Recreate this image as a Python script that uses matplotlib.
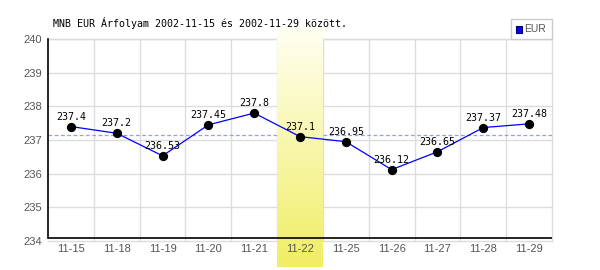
import numpy as np
import matplotlib
matplotlib.use("Agg")
import matplotlib.pyplot as plt
from matplotlib.patches import Rectangle

categories = ["11-15", "11-18", "11-19", "11-20", "11-21", "11-22",
              "11-25", "11-26", "11-27", "11-28", "11-29"]
values = [237.4, 237.2, 236.53, 237.45, 237.8, 237.1,
          236.95, 236.12, 236.65, 237.37, 237.48]
value_labels = ["237.4", "237.2", "236.53", "237.45", "237.8", "237.1",
                "236.95", "236.12", "236.65", "237.37", "237.48"]
avg_line = 237.15
highlight_index = 5
y_ticks = [234, 235, 236, 237, 238, 239, 240]
title = "MNB EUR Árfolyam 2002-11-15 és 2002-11-29 között."
legend_label = "EUR"

W, H = 600, 270
fig = plt.figure(figsize=(6, 2.7), dpi=100, facecolor="white")

# axes pixel box: left 48, right 552, top 39, bottom 241
L, R, T, B = 48, 552, 39, 241
ax = fig.add_axes([L / W, (H - B) / H, (R - L) / W, (B - T) / H])
ax.set_facecolor("white")
ymin, ymax = 234, 240
ppu = (B - T) / (ymax - ymin)

def py2data(p):
    return ymax - (p - T) / ppu

x = np.arange(len(categories))

# grid
ax.set_axisbelow(False)
for k in range(1, len(categories)):
    ax.axvline(k - 0.5, color="#dddddd", lw=1.0, zorder=0.5)
for yt in y_ticks:
    ax.axhline(yt, color="#dddddd", lw=1.0, zorder=0.5, clip_on=False)

# average dashed line
ax.axhline(avg_line, color="#9999ff", lw=0.9, ls=(0, (3, 2)), zorder=1)

# highlight band with gradient
grad = np.linspace(0, 1, 256).reshape(-1, 1)
top_c = np.array([255, 255, 242]) / 255
bot_c = np.array([240, 238, 100]) / 255
img = top_c[None, None, :] * (1 - grad[:, :, None]) + bot_c[None, None, :] * grad[:, :, None]
ax.imshow(img, extent=[highlight_index - 0.5, highlight_index + 0.5,
                       py2data(267), py2data(28)],
          aspect="auto", origin="upper", zorder=1.5, clip_on=False,
          interpolation="bilinear")

# black x axis line slightly above bottom
y_axis_line = py2data(238)
ax.plot([-0.5, len(categories) - 0.5], [y_axis_line, y_axis_line],
        color="black", lw=1.2, zorder=3, clip_on=False, solid_capstyle="butt")

# series
ax.plot(x, values, color="#0000ff", lw=0.9, zorder=4)
ax.scatter(x, values, s=32, color="black", zorder=5)
for xi, v, lab in zip(x, values, value_labels):
    ax.annotate(lab, (xi, v), xytext=(0, 10), textcoords="offset pixels",
                ha="center", va="center", fontsize=7.2,
                family="DejaVu Sans Mono", color="black", zorder=6)

ax.set_xlim(-0.5, len(categories) - 0.5)
ax.set_ylim(ymin, ymax)
ax.set_xticks(x)
ax.set_xticklabels(categories)
ax.set_yticks(y_ticks)
ax.set_yticklabels([str(t) for t in y_ticks])
ax.tick_params(axis="both", length=0, colors="#555555", labelsize=8)
ax.tick_params(axis="x", pad=2.5)
ax.tick_params(axis="y", pad=4.5)
for lbl in ax.get_xticklabels() + ax.get_yticklabels():
    lbl.set_family("Liberation Sans")

ax.spines["bottom"].set_visible(False)
ax.spines["top"].set_color("#dddddd")
ax.spines["right"].set_color("#dddddd")
ax.spines["left"].set_color("black")
ax.spines["left"].set_linewidth(1.2)
ax.spines["left"].set_bounds(y_axis_line, ymax)
ax.spines["left"].set_zorder(3)
for s in ["top", "right"]:
    ax.spines[s].set_linewidth(1.0)
    ax.spines[s].set_zorder(0.5)

# title
fig.text(53 / W, (H - 23) / H, title, ha="left", va="center",
         fontsize=7.2, family="DejaVu Sans Mono", color="black")

# legend (manual)
def fr(x0, y0, x1, y1, **kw):
    fig.patches.append(Rectangle((x0 / W, (H - y1) / H), (x1 - x0) / W, (y1 - y0) / H,
                                 transform=fig.transFigure, figure=fig, **kw))

fr(511, 19, 552, 39, facecolor="white", edgecolor="#cccccc", lw=1.0)
fr(515.5, 26.5, 521.5, 32.5, facecolor="#0000ff", edgecolor="#000066", lw=0.8)
fig.text(524 / W, (H - 29.5) / H, legend_label, ha="left", va="center",
         fontsize=7.5, family="Liberation Sans", color="#555555")

fig.savefig("out.png", dpi=100, facecolor="white")
